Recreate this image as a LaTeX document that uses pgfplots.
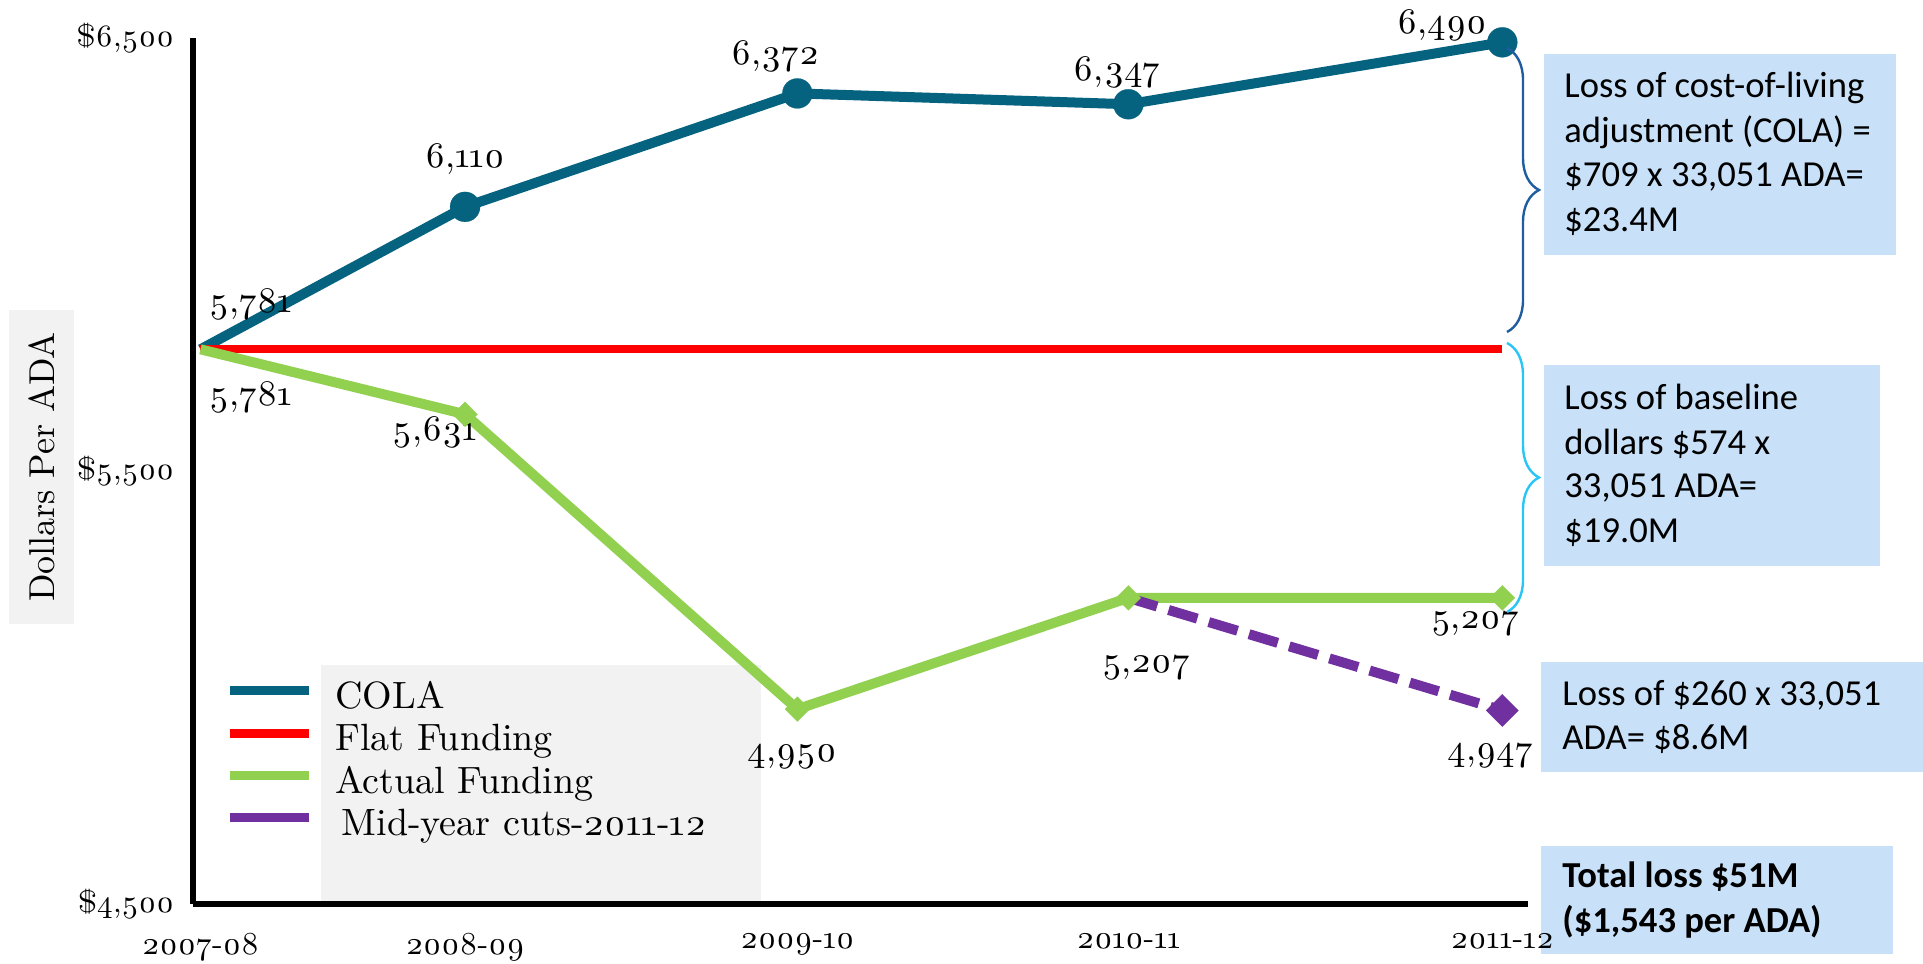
\documentclass[border=0pt]{standalone}
\usepackage{fontspec}
\setmainfont{lmroman10-regular}[Extension=.otf, BoldFont=lmroman10-bold, Numbers=OldStyle]
\newfontfamily\carlito{Carlito}
\usepackage{pgfplots}
\pgfplotsset{compat=1.18}
\usetikzlibrary{decorations.pathreplacing}
\definecolor{cola}{RGB}{5,99,127}
\definecolor{actual}{RGB}{146,208,80}
\definecolor{cuts}{RGB}{112,48,160}
\definecolor{flat}{RGB}{255,0,0}
\definecolor{boxblue}{RGB}{200,225,248}
\definecolor{lgray}{RGB}{242,242,242}
\definecolor{braceA}{RGB}{31,93,160}
\definecolor{braceB}{RGB}{41,197,246}
\newcommand\labfont{\fontsize{18}{21}\selectfont}
\newcommand\boxfont{\carlito\fontsize{18.3}{22}\selectfont}
\begin{document}
\begin{tikzpicture}
\useasboundingbox (0,0) rectangle (961.5pt,482pt);
% legend background
\fill[lgray] (160.5pt,30pt) rectangle (380.5pt,149.5pt);
% annotation boxes
\fill[boxblue] (772pt,354.5pt) rectangle (948pt,455pt);
\fill[boxblue] (772pt,199pt) rectangle (940pt,299.5pt);
\fill[boxblue] (770.5pt,96pt) rectangle (961.5pt,151pt);
\fill[boxblue] (770.5pt,5pt) rectangle (946.5pt,59pt);
\begin{axis}[
  at={(96.5pt,30pt)}, anchor=south west,
  scale only axis, width=667.5pt, height=433pt,
  xmin=-0.023, xmax=4.079, ymin=4500, ymax=6500,
  axis x line*=bottom, axis y line*=left,
  axis line style={line width=3pt, black, -},
  major tick length=0pt,
  xtick={0,0.813,1.834,2.851,4},
  xticklabels={2007-08,2008-09,2009-10,2010-11,2011-12},
  ytick={4500,5500,6500},
  yticklabels={{\$4,500},{\$5,500},{\$6,500}},
  xticklabel style={font=\fontsize{16}{19}\selectfont, yshift=-11pt},
  yticklabel style={font=\fontsize{15.5}{18}\selectfont, xshift=-6pt},
  ylabel={Dollars Per ADA},
  ylabel style={at={(rel axis cs:-0.1135,0.5046)}, anchor=center, fill=lgray,
    minimum width=157pt, minimum height=32.5pt, inner sep=0pt,
    font=\fontsize{18}{21}\selectfont},
  clip=false,
  legend style={at={(0.024,0.262)}, anchor=north west, draw=none, fill=none,
    inner sep=0pt, row sep=2.3pt, column sep=9pt,
    font=\fontsize{19}{22}\selectfont},
  legend cell align=left,
  legend image code/.code={\draw[#1, solid, line width=4.5pt] (0pt,0.3em) -- (39.5pt,0.3em);},
]
\addplot[cola, line width=5pt, line join=round, mark=*, mark size=7.5pt, mark indices={2,3,4,5},
  mark options={solid, line width=0.1pt}]
  coordinates {(0,5781) (0.813,6110) (1.834,6372) (2.851,6347) (4,6490)};
\addlegendentry{COLA}
\addplot[flat, line width=4pt]
  coordinates {(0,5781) (0.813,5781) (1.834,5781) (2.851,5781) (4,5781)};
\addlegendentry{Flat Funding}
\addplot[actual, line width=5pt, line join=round, mark=square*, mark size=4.4pt, mark indices={2,3,4,5},
  mark options={solid, rotate=45, line width=0.1pt}]
  coordinates {(0,5781) (0.813,5631) (1.834,4950) (2.851,5207) (4,5207)};
\addlegendentry{Actual Funding}
\addplot[cuts, line width=5pt, dash pattern=on 15pt off 6pt, mark=square*, mark size=5.7pt, mark indices={2},
  mark options={solid, rotate=45, line width=0.1pt}]
  coordinates {(2.851,5207) (4,4947)};
\addlegendentry{\,Mid-year cuts-2011-12}
% data labels
\node[font=\labfont, anchor=west, xshift=1pt, yshift=22.7pt] at (axis cs:0,5781) {5,781};
\node[font=\labfont, yshift=24pt] at (axis cs:0.813,6110) {6,110};
\node[font=\labfont, xshift=-11pt, yshift=18.4pt] at (axis cs:1.834,6372) {6,372};
\node[font=\labfont, xshift=-5.5pt, yshift=16pt] at (axis cs:2.851,6347) {6,347};
\node[font=\labfont, xshift=-30pt, yshift=8.6pt] at (axis cs:4,6490) {6,490};
\node[font=\labfont, anchor=west, xshift=1pt, yshift=-24pt] at (axis cs:0,5781) {5,781};
\node[font=\labfont, xshift=-15pt, yshift=-9pt] at (axis cs:0.813,5631) {5,631};
\node[font=\labfont, xshift=-2.5pt, yshift=-24pt] at (axis cs:1.834,4950) {4,950};
\node[font=\labfont, xshift=9pt, yshift=-35pt] at (axis cs:2.851,5207) {5,207};
\node[font=\labfont, xshift=-13.5pt, yshift=-13pt] at (axis cs:4,5207) {5,207};
\node[font=\labfont, xshift=-6pt, yshift=-22.7pt] at (axis cs:4,4947) {4,947};
\end{axis}
% braces
\draw[braceA, line width=1.2pt, decorate, decoration={brace, amplitude=16pt}] (753.5pt,458pt) -- (753.5pt,316pt);
\draw[braceB, line width=1.2pt, decorate, decoration={brace, amplitude=16pt}] (753.5pt,310.5pt) -- (753.5pt,176pt);
% box texts
\begin{scope}[every node/.style={anchor=base west, inner sep=0pt, font=\boxfont}]
\node at (782pt,433pt) {Loss of cost-of-living};
\node at (782pt,410.5pt) {adjustment (COLA) =};
\node at (782pt,388.5pt) {\$709 x 33,051 ADA=};
\node at (782pt,366pt) {\$23.4M};
\node at (782pt,277pt) {Loss of baseline};
\node at (782pt,254.5pt) {dollars \$574 x};
\node at (782pt,233pt) {33,051 ADA=};
\node at (782pt,210.5pt) {\$19.0M};
\node at (781pt,129pt) {Loss of \$260 x 33,051};
\node at (781pt,107pt) {ADA= \$8.6M};
\node[font=\boxfont\bfseries] at (781pt,38pt) {Total loss \$51M};
\node[font=\boxfont\bfseries] at (781pt,15.5pt) {(\$1,543 per ADA)};
\end{scope}
\end{tikzpicture}
\end{document}
